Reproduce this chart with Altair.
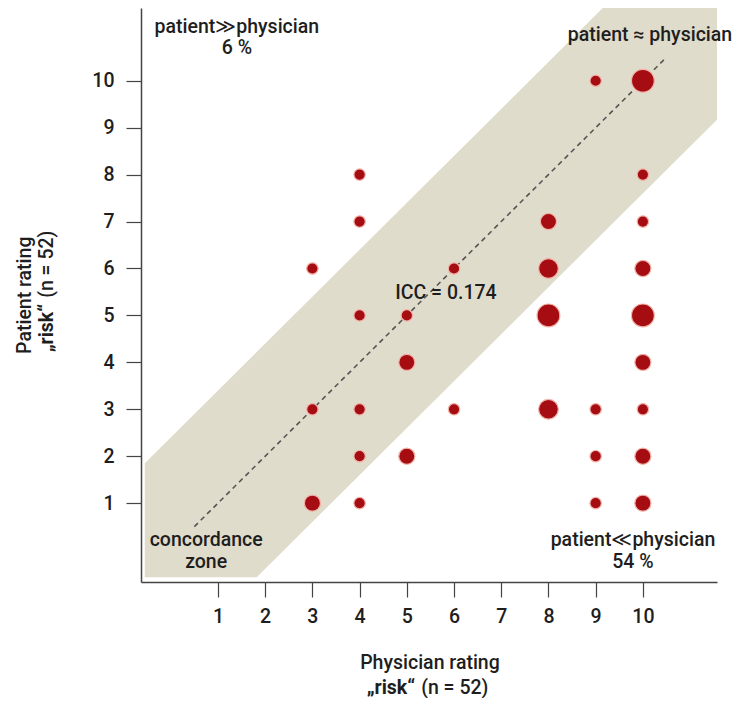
import altair as alt
import pandas as pd

# ---- data ----
physician = [9, 10, 4, 10, 4, 8, 10, 3, 6, 8, 10, 4, 5, 8, 10, 5, 10, 3, 4, 6, 8, 9, 10, 4, 5, 9, 10, 3, 4, 9, 10]
patient = [10, 10, 8, 8, 7, 7, 7, 6, 6, 6, 6, 5, 5, 5, 5, 4, 4, 3, 3, 3, 3, 3, 3, 2, 2, 2, 2, 1, 1, 1, 1]
count = [1, 4, 1, 1, 1, 2, 1, 1, 1, 3, 2, 1, 1, 4, 4, 2, 2, 1, 1, 1, 3, 1, 1, 1, 2, 1, 2, 2, 1, 1, 2]

tick_values = [1, 2, 3, 4, 5, 6, 7, 8, 9, 10]

diag_x = [0.5, 10.5]

band_half = 2.4
x_dom = [-0.63, 11.57]
y_dom = [-0.68, 11.55]
band_x = [-0.55, 1.82, 9.15, 11.57]
band_floor = -0.58

ann_text = ["patient\u226bphysician", "6 %", "patient \u2248 physician", "ICC = 0.174",
            "concordance", "zone", "patient\u226aphysician", "54 %"]
ann_x = [1.40, 1.40, 10.15, 5.83, 0.75, 0.75, 9.79, 9.79]
ann_y = [11.15, 10.70, 10.98, 5.48, 0.21, -0.26, 0.21, -0.26]

FONT = "Roboto, sans-serif"
TXT = "#1e1e1e"
FS = 19.5
FW = 500

pts = pd.DataFrame({"physician": physician, "patient": patient, "count": count})
band = pd.DataFrame({
    "x": band_x,
    "lo": [max(v - band_half, band_floor) for v in band_x],
    "hi": [min(v + band_half, y_dom[1]) for v in band_x],
})
diag = pd.DataFrame({"x": diag_x, "y": diag_x})
ann = pd.DataFrame({"x": ann_x, "y": ann_y, "t": ann_text})

xs = alt.Scale(domain=x_dom, nice=False, zero=False)
ys = alt.Scale(domain=y_dom, nice=False, zero=False)

axis_common = dict(
    values=tick_values, grid=False, domainColor="#444444", domainWidth=1.5,
    tickColor="#444444", tickWidth=1.2, tickSize=15, labelFont=FONT, labelFontSize=FS,
    labelFontWeight=FW, labelColor=TXT, title=None,
)

band_layer = alt.Chart(band).mark_area(color="#e0dccb", opacity=1).encode(
    x=alt.X("x:Q", scale=xs, axis=alt.Axis(labelPadding=10, **axis_common)),
    y=alt.Y("lo:Q", scale=ys, axis=alt.Axis(labelPadding=12, **axis_common)),
    y2="hi:Q",
)

diag_layer = alt.Chart(diag).mark_line(color="#555555", strokeWidth=1.6, strokeDash=[5, 4]).encode(
    x=alt.X("x:Q", scale=xs), y=alt.Y("y:Q", scale=ys)
)

pt_layer = alt.Chart(pts).mark_circle(
    color="#a50d12", opacity=1, stroke="#f2b3aa", strokeWidth=1.2
).encode(
    x=alt.X("physician:Q", scale=xs),
    y=alt.Y("patient:Q", scale=ys),
    size=alt.Size("count:Q", scale=alt.Scale(domain=[0, 4], range=[0, 520]), legend=None),
)

ann_layer = alt.Chart(ann).mark_text(
    font=FONT, fontSize=FS, fontWeight=FW, color=TXT, align="center", baseline="middle"
).encode(
    x=alt.X("x:Q", scale=xs), y=alt.Y("y:Q", scale=ys), text="t:N"
)

# axis titles (two lines, second line partly bold)
xt1 = pd.DataFrame({"x": [5.49], "y": [-2.41], "t": ["Physician rating"]})
xt2a = pd.DataFrame({"x": [5.24], "y": [-2.94], "t": ["\u201erisk\u201c"]})
xt2b = pd.DataFrame({"x": [5.24], "y": [-2.94], "t": ["(n = 52)"]})
yt1 = pd.DataFrame({"x": [-3.09], "y": [5.43], "t": ["Patient rating"]})
yt2a = pd.DataFrame({"x": [-2.62], "y": [5.31], "t": ["\u201erisk\u201c"]})
yt2b = pd.DataFrame({"x": [-2.62], "y": [5.31], "t": ["(n = 52)"]})


def tx(df, weight=FW, **kw):
    return alt.Chart(df).mark_text(
        font=FONT, fontSize=FS, fontWeight=weight, color=TXT, baseline="middle", **kw
    ).encode(
        x=alt.X("x:Q", scale=xs), y=alt.Y("y:Q", scale=ys), text="t:N"
    )


titles = [
    tx(xt1, align="center"),
    tx(xt2a, weight="bold", align="right", dx=-3),
    tx(xt2b, align="left", dx=3),
    tx(yt1, align="center", angle=270),
    tx(yt2a, weight="bold", align="right", angle=270, dx=-3),
    tx(yt2b, align="left", angle=270, dx=3),
]

chart = alt.layer(band_layer, diag_layer, pt_layer, ann_layer, *titles).properties(
    width=576, height=574,
    autosize=alt.AutoSizeParams(type="none"),
    padding={"left": 133, "top": 0, "right": 17, "bottom": 116},
).configure_view(stroke=None)

chart.save("out.html", embed_options={"renderer": "svg", "actions": False})
